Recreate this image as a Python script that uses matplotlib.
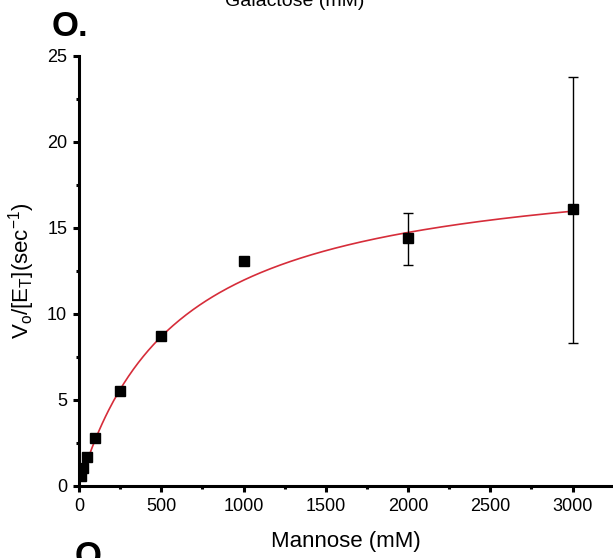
import numpy as np
import matplotlib.pyplot as plt
from matplotlib.ticker import MultipleLocator

plt.rcParams['font.family'] = ['Liberation Sans', 'DejaVu Sans']
plt.rcParams['mathtext.fontset'] = 'custom'
plt.rcParams['mathtext.rm'] = 'Liberation Sans'
plt.rcParams['mathtext.it'] = 'Liberation Sans:italic'

# data
mannose = [10, 25, 50, 100, 250, 500, 1000, 2000, 3000]
rate = [0.6, 1.05, 1.7, 2.8, 5.5, 8.7, 13.1, 14.4, 16.1]
err_lo = [0, 0, 0, 0, 0, 0, 0, 1.55, 7.8]
err_hi = [0, 0, 0, 0, 0, 0, 0, 1.5, 7.7]

# Michaelis-Menten fit parameters
kcat = 19.2
km = 605.0

fig = plt.figure(figsize=(6.13, 5.58), dpi=100)
ax = fig.add_axes([79 / 613, 72 / 558, 534 / 613, 430 / 558])

s = np.linspace(0, 3000, 300)
ax.plot(s, kcat * s / (km + s), color='#d62d3a', lw=1.2, zorder=2)
ax.errorbar(mannose, rate, yerr=[err_lo, err_hi], fmt='s', color='black',
            ms=6.5, elinewidth=1.0, capsize=3.5, capthick=1.0, zorder=3)

ax.set_xlim(0, 3246)
ax.set_ylim(0, 25)
ax.xaxis.set_major_locator(MultipleLocator(500))
ax.xaxis.set_minor_locator(MultipleLocator(250))
ax.yaxis.set_major_locator(MultipleLocator(5))
ax.yaxis.set_minor_locator(MultipleLocator(2.5))

for side in ['top', 'right']:
    ax.spines[side].set_visible(False)
for side in ['left', 'bottom']:
    ax.spines[side].set_linewidth(2.2)
ax.tick_params(which='major', direction='out', length=4.5, width=2.2,
               labelsize=13, pad=4)
ax.tick_params(which='minor', direction='out', length=2.5, width=2.2)

ax.set_xlabel('Mannose (mM)', fontsize=16, labelpad=12)
ax.set_ylabel(r'V$_{\mathrm{o}}$/[E$_{\mathrm{T}}$](sec$^{\mathrm{-1}}$)',
              fontsize=16, labelpad=7)

fig.text(52 / 613, 1 - 10 / 558, 'O.', fontsize=25, fontweight='bold', va='top', ha='left')
fig.text(295 / 613, 1 - 2 / 558, 'Galactose (mM)', fontsize=14, va='center', ha='center')
fig.text(75 / 613, 1 - 540 / 558, 'Q', fontsize=25, fontweight='bold', va='top', ha='left')

fig.savefig('out.png', dpi=100)
